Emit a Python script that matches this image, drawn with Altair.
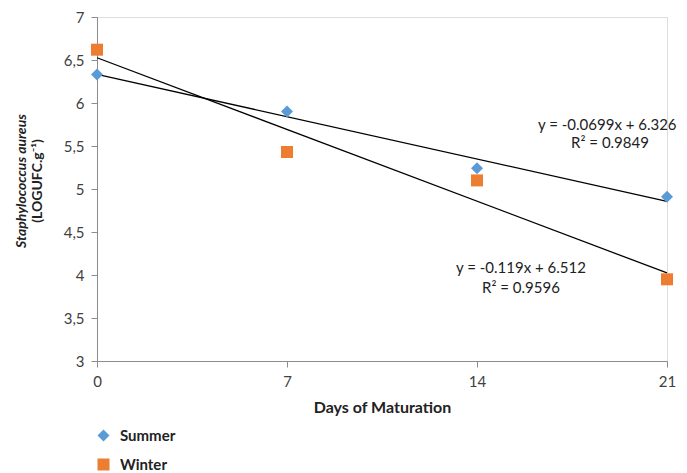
import altair as alt
import pandas as pd

days = [0, 7, 14, 21]
summer = [6.33, 5.90, 5.24, 4.91]
winter = [6.62, 5.43, 5.10, 3.95]
seasons = ["Summer", "Winter"]
y_ticks = [3, 3.5, 4, 4.5, 5, 5.5, 6, 6.5, 7]

eq_text = ["y = -0.0699x + 6.326", "R² = 0.9849", "y = -0.119x + 6.512", "R² = 0.9596"]
eq_x = [18.8, 18.9, 15.62, 15.62]
eq_y = [5.74, 5.53, 4.08, 3.85]

rows = []
for d, s, w in zip(days, summer, winter):
    rows.append({"day": d, "value": s, "season": "Summer"})
    rows.append({"day": d, "value": w, "season": "Winter"})
df = pd.DataFrame(rows)
eq_df = pd.DataFrame({"text": eq_text, "x": eq_x, "y": eq_y})

FONT = "Lato"

xscale = alt.Scale(domain=[0, 21], nice=False, zero=False)
yscale = alt.Scale(domain=[3, 7], nice=False, zero=False)

base = alt.Chart(df)

trend = base.transform_regression(
    "day", "value", groupby=["season"], extent=[0, 21]
).mark_line(color="black", strokeWidth=1.3).encode(
    x=alt.X("day:Q", scale=xscale),
    y=alt.Y("value:Q", scale=yscale),
    detail="season:N",
)

points = base.mark_point(filled=True, opacity=1, size=144).encode(
    x=alt.X(
        "day:Q",
        scale=xscale,
        axis=alt.Axis(
            values=days,
            title="Days of Maturation",
            titleFontWeight="bold",
            titleFontSize=16,
            titleFont=FONT,
            titleColor="#222222",
            titlePadding=10,
            labelFont=FONT,
            labelFontSize=15,
            labelColor="#404040",
            labelPadding=7,
            labelFlush=False,
            grid=False,
            domainColor="#8c8c8c",
            tickColor="#8c8c8c",
            tickSize=6,
        ),
    ),
    y=alt.Y(
        "value:Q",
        scale=yscale,
        axis=alt.Axis(
            values=y_ticks,
            title=None,
            labelExpr="replace(format(datum.value, '~g'), '.', ',')",
            labelFont=FONT,
            labelFontSize=15,
            labelColor="#404040",
            labelPadding=7,
            grid=False,
            domainColor="#8c8c8c",
            tickColor="#8c8c8c",
            tickSize=6,
        ),
    ),
    color=alt.Color(
        "season:N",
        scale=alt.Scale(domain=seasons, range=["#5B9BD5", "#ED7D31"]),
        legend=alt.Legend(
            title=None,
            orient="none",
            legendX=-1,
            legendY=411,
            direction="vertical",
            labelFont=FONT,
            labelFontSize=15,
            labelFontWeight="bold",
            labelColor="#222222",
            symbolSize=144,
            rowPadding=13,
            labelOffset=9,
        ),
    ),
    shape=alt.Shape(
        "season:N",
        scale=alt.Scale(domain=seasons, range=["diamond", "square"]),
        legend=None,
    ),
)

eqs = alt.Chart(eq_df).mark_text(font=FONT, fontSize=15, color="#222222").encode(
    x=alt.X("x:Q", scale=xscale),
    y=alt.Y("y:Q", scale=yscale),
    text="text:N",
)

ytitle_df = pd.DataFrame({"t": ["Staphylococcus aureus", "(LOGUFC.g⁻¹)"], "px": [-75, -59]})
ytitle1 = alt.Chart(ytitle_df).transform_filter("datum.px == -75").mark_text(
    angle=270, font=FONT, fontSize=14, fontWeight="bold", fontStyle="italic", color="#222222"
).encode(x=alt.value(-75), y=alt.value(164), text="t:N")
ytitle2 = alt.Chart(ytitle_df).transform_filter("datum.px == -59").mark_text(
    angle=270, font=FONT, fontSize=14, fontWeight="bold", color="#222222"
).encode(x=alt.value(-59), y=alt.value(164), text="t:N")

chart = alt.layer(trend, points, eqs, ytitle1, ytitle2).properties(
    width=570,
    height=344,
    autosize=alt.AutoSizeParams(type="none"),
    padding={"left": 89, "top": 9, "right": 10, "bottom": 112},
).configure_view(stroke=None).configure(background="white")

chart.save("out.html", embed_options={"renderer": "svg", "actions": False})
